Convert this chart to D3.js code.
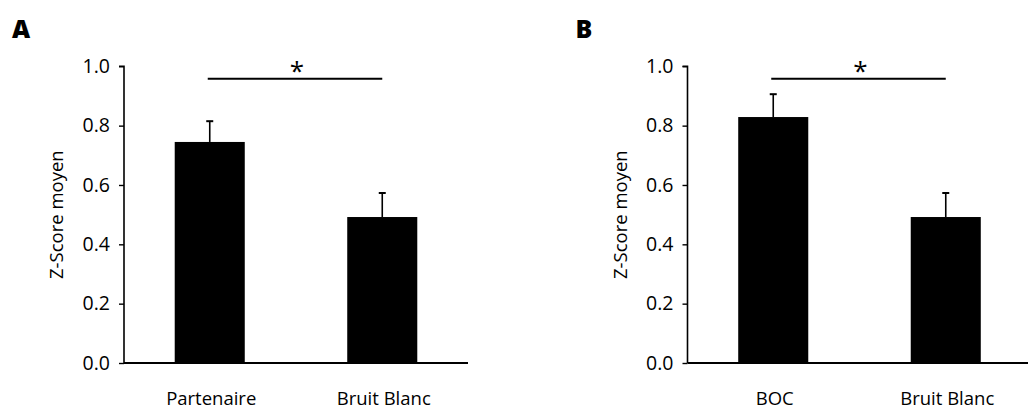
<!DOCTYPE html>
<html>
<head>
<meta charset="utf-8">
<script src="https://cdn.jsdelivr.net/npm/d3@7"></script>
<style>
  html, body { margin: 0; padding: 0; background: #fff; }
  svg { display: block; }
  text { font-family: "Open Sans", "Noto Sans", sans-serif; fill: #000; }
</style>
</head>
<body>
<svg id="chart" width="1028" height="410"></svg>
<script>
// ---- data ----
const panelLetters = ["A", "B"];
const categoriesA = ["Partenaire", "Bruit Blanc"];
const categoriesB = ["BOC", "Bruit Blanc"];
const meansA = [0.745, 0.492];
const errorsA = [0.070, 0.081];
const meansB = [0.829, 0.492];
const errorsB = [0.077, 0.081];
const yTicks = [0.0, 0.2, 0.4, 0.6, 0.8, 1.0];
const yTitle = "Z-Score moyen";
const sigMarker = "*";
const sigLevel = 0.958;

const svg = d3.select("#chart");

function drawPanel(letter, cats, means, errs, left) {
  const top = 66.3, bottom = 363, width = 344;
  const g = svg.append("g");

  const y = d3.scaleLinear().domain([0, 1]).range([bottom, top]);
  const x = d3.scaleBand().domain(cats).range([left, left + width])
    .paddingInner(0.594).paddingOuter(0.294);

  // panel letter
  g.append("text").attr("x", left - 112).attr("y", 38)
    .attr("font-size", 25).attr("font-weight", 800).text(letter);

  // bars
  g.selectAll("rect.bar").data(cats).join("rect")
    .attr("x", d => x(d)).attr("width", x.bandwidth())
    .attr("y", (d, i) => y(means[i]))
    .attr("height", (d, i) => y(0) - y(means[i]))
    .attr("fill", "#000");

  // error bars
  const eb = g.selectAll("g.err").data(cats).join("g");
  eb.append("line")
    .attr("x1", d => x(d) + x.bandwidth() / 2).attr("x2", d => x(d) + x.bandwidth() / 2)
    .attr("y1", (d, i) => y(means[i])).attr("y2", (d, i) => y(means[i] + errs[i]))
    .attr("stroke", "#000").attr("stroke-width", 1.6);
  eb.append("line")
    .attr("x1", d => x(d) + x.bandwidth() / 2 - 3.5).attr("x2", d => x(d) + x.bandwidth() / 2 + 3.5)
    .attr("y1", (d, i) => y(means[i] + errs[i])).attr("y2", (d, i) => y(means[i] + errs[i]))
    .attr("stroke", "#000").attr("stroke-width", 2);

  // y axis
  const ya = g.append("g").attr("transform", `translate(${left},0)`)
    .call(d3.axisLeft(y).tickValues(yTicks).tickFormat(d3.format(".1f")).tickSize(5).tickPadding(9));
  ya.select(".domain").attr("stroke-width", 1.6).attr("d", `M-5,${top}H0V${bottom}`);
  ya.selectAll(".tick line").attr("stroke-width", 1.4);
  ya.selectAll(".tick text").attr("font-size", 19.5).attr("font-family", "'Open Sans', sans-serif");

  // x axis line
  g.append("line").attr("x1", left).attr("x2", left + width)
    .attr("y1", y(0)).attr("y2", y(0)).attr("stroke", "#000").attr("stroke-width", 1.8);

  // category labels
  g.selectAll("text.cat").data(cats).join("text")
    .attr("x", d => x(d) + x.bandwidth() / 2 + 1.5).attr("y", 405)
    .attr("text-anchor", "middle").attr("font-size", 18.5).text(d => d);

  // y title
  g.append("text").attr("transform", `translate(${left - 61},${(top + bottom) / 2}) rotate(-90)`)
    .attr("text-anchor", "middle").attr("font-size", 18.5).text(yTitle);

  // significance line
  const x1c = x(cats[0]) + x.bandwidth() / 2, x2c = x(cats[1]) + x.bandwidth() / 2;
  g.append("line").attr("x1", x1c - 2).attr("x2", x2c).attr("y1", y(sigLevel)).attr("y2", y(sigLevel))
    .attr("stroke", "#000").attr("stroke-width", 2);
  g.append("text").attr("x", (x1c + x2c) / 2 + 1).attr("y", y(sigLevel) + 1)
    .attr("text-anchor", "middle").attr("font-size", 26).attr("font-family", "'DejaVu Sans', sans-serif")
    .text(sigMarker);
}

drawPanel(panelLetters[0], categoriesA, meansA, errorsA, 124);
drawPanel(panelLetters[1], categoriesB, meansB, errorsB, 687.5);
</script>
</body>
</html>
